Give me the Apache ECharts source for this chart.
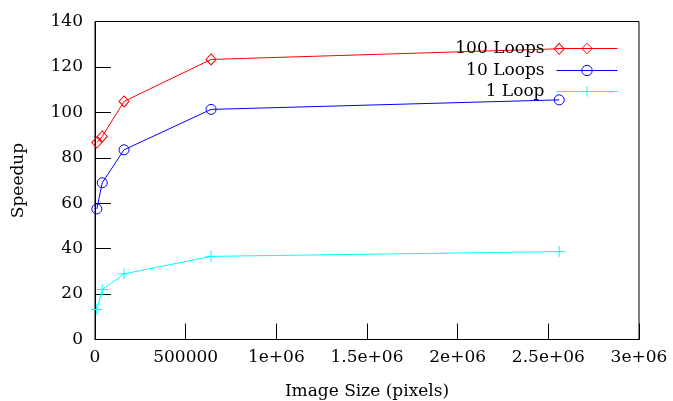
<!DOCTYPE html>
<html><head><meta charset="utf-8">
<script src="https://cdn.jsdelivr.net/npm/echarts@6/dist/echarts.min.js"></script>
<style>html,body{margin:0;padding:0;background:#fff}#c{width:673px;height:401px}</style>
</head><body><div id="c"></div>
<script>
const imageSizes = [10000, 40000, 160000, 640000, 2560000];
const loops100 = [86.7, 89.4, 104.8, 123.3, 128.0];
const loops10 = [57.5, 69.0, 83.5, 101.3, 105.5];
const loop1 = [13.2, 22.0, 28.9, 36.6, 38.7];
const xTickLabels = ['0', '500000', '1e+06', '1.5e+06', '2e+06', '2.5e+06', '3e+06'];
const seriesNames = ['100 Loops', '10 Loops', '1 Loop'];

const FONT = 'DejaVu Serif';
const FS = 17;
const pair = (xs, ys) => xs.map((x, i) => [x, ys[i]]);
const crossSym = 'path://M5,0L5,10M0,5L10,5';
const circleSym = 'path://M10,5A5,5,0,1,1,0,5A5,5,0,1,1,10,5Z';
const diamondSym = 'path://M5,0L10,5L5,10L0,5Z';
const NOFILL = 'rgba(255,255,255,0)';

const chart = echarts.init(document.getElementById('c'), null, {renderer: 'canvas'});
const legendRow = (name, top) => ({
  data: [name], orient: 'vertical', align: 'right', right: 55, top: top,
  itemWidth: 61, itemHeight: 13, padding: 0,
  lineStyle: {width: 1},
  itemStyle: {borderWidth: 1, color: NOFILL},
  textStyle: {fontFamily: FONT, fontSize: FS, color: '#000', padding: [0, 7, 0, 0]}
});
const mk = (name, data, sym, size, col) => ({
  name: name, type: 'line', data: data, symbol: sym, symbolSize: size,
  lineStyle: {color: col, width: 1},
  itemStyle: {color: NOFILL, borderColor: col, borderWidth: 1}
});
chart.setOption({
  animation: false,
  textStyle: {fontFamily: FONT},
  grid: {left: 95, right: 34, top: 21.5, bottom: 61.5, show: true, borderColor: '#000', borderWidth: 1,
         backgroundColor: 'transparent', outerBoundsMode: 'none', containLabel: false},
  legend: [legendRow(seriesNames[0], 40), legendRow(seriesNames[1], 62), legendRow(seriesNames[2], 83)],
  xAxis: {
    type: 'value', min: 0, max: 3000000, interval: 500000,
    name: 'Image Size (pixels)', nameLocation: 'middle', nameGap: 44,
    nameTextStyle: {fontFamily: FONT, fontSize: FS, color: '#000'},
    axisLine: {lineStyle: {color: '#000', width: 1}},
    axisTick: {inside: true, length: 16, lineStyle: {color: '#000'}},
    axisLabel: {fontFamily: FONT, fontSize: FS, color: '#000', margin: 10,
      formatter: (v) => xTickLabels[Math.round(v / 500000)]},
    splitLine: {show: false}
  },
  yAxis: {
    type: 'value', min: 0, max: 140, interval: 20,
    name: 'Speedup', nameLocation: 'middle', nameGap: 68, nameRotate: 90,
    nameTextStyle: {fontFamily: FONT, fontSize: FS, color: '#000'},
    axisLine: {lineStyle: {color: '#000', width: 1}},
    axisTick: {inside: true, length: 16, lineStyle: {color: '#000'}},
    axisLabel: {fontFamily: FONT, fontSize: FS, color: '#000', margin: 12},
    splitLine: {show: false}
  },
  series: [
    mk(seriesNames[0], pair(imageSizes, loops100), diamondSym, [10, 11], '#ff0000'),
    mk(seriesNames[1], pair(imageSizes, loops10), circleSym, 10, '#0000ff'),
    mk(seriesNames[2], pair(imageSizes, loop1), crossSym, 11, '#00ffff')
  ]
});
</script></body></html>
